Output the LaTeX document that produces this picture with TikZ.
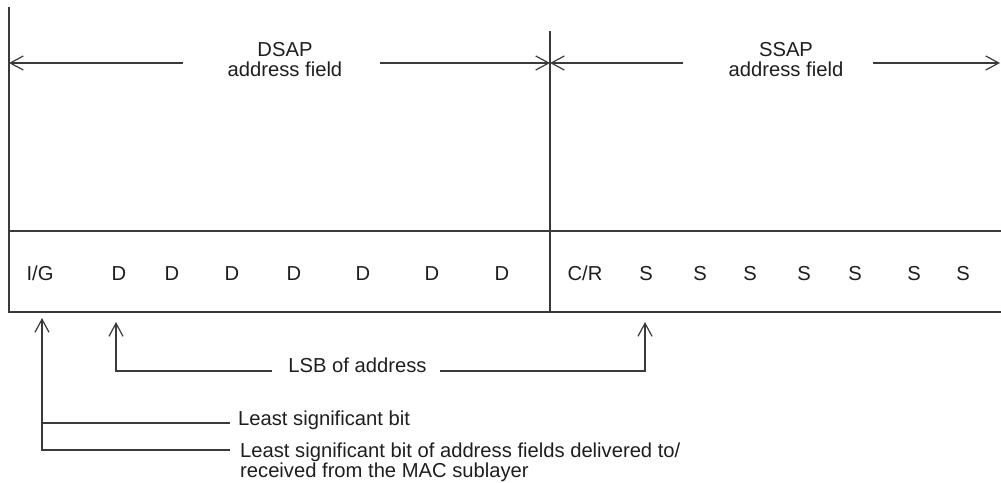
\documentclass[tikz,border=0pt]{standalone}
\usepackage{fontspec}
\setmainfont{Liberation Sans}
\usetikzlibrary{arrows.meta}
\definecolor{lncol}{HTML}{3A3A3A}
\definecolor{txcol}{HTML}{1E1E1E}
\begin{document}
\begin{tikzpicture}[x=1pt,y=-1pt,
  ln/.style={draw=lncol,line width=1.2pt},
  arr/.style={ln,-{Straight Barb[length=13pt,width=14pt]}},
  lbl/.style={text=txcol,font=\fontsize{20.2}{19.8}\selectfont,inner sep=0pt},
  bit/.style={lbl,anchor=base}]
\useasboundingbox (0,0) rectangle (1001,482);

% frame
\coordinate (tl) at (9,7);
\coordinate (bl) at (9,312);
\coordinate (br) at (1001,312);
\coordinate (ml) at (9,231);
\coordinate (mr) at (1001,231);
\coordinate (mt) at (550,31);
\coordinate (mb) at (550,312);
\draw[ln] (tl) -- (bl) -- (br);
\draw[ln] (ml) -- (mr);
\draw[ln] (mt) -- (mb);

% field labels
\node[lbl,align=center] (dsap) at (285,59.5) {DSAP\\address field};
\node[lbl,align=center] (ssap) at (786,59.5) {SSAP\\address field};

\coordinate (da) at (183,63);
\coordinate (dz) at (9,63);
\coordinate (db) at (380,63);
\coordinate (dm) at (550,63);
\coordinate (sa) at (683,63);
\coordinate (sb) at (873,63);
\coordinate (sz) at (1000,63);
\draw[arr] (da) -- (dz);
\draw[arr] (db) -- (dm);
\draw[arr] (sa) -- (dm);
\draw[arr] (sb) -- (sz);

% bits
\node[bit] (ig) at (40,280.5) {I/G};
\node[bit] (d1) at (119,280.5) {D};
\node[bit] (d2) at (172,280.5) {D};
\node[bit] (d3) at (232,280.5) {D};
\node[bit] (d4) at (294,280.5) {D};
\node[bit] (d5) at (363,280.5) {D};
\node[bit] (d6) at (432,280.5) {D};
\node[bit] (d7) at (502,280.5) {D};
\node[bit] (cr) at (585,280.5) {C/R};
\node[bit] (s1) at (646,280.5) {S};
\node[bit] (s2) at (700,280.5) {S};
\node[bit] (s3) at (750,280.5) {S};
\node[bit] (s4) at (804,280.5) {S};
\node[bit] (s5) at (855,280.5) {S};
\node[bit] (s6) at (914,280.5) {S};
\node[bit] (s7) at (963,280.5) {S};

% lower annotations
\node[lbl,anchor=base] (lsb) at (357.5,372) {LSB of address};
\node[lbl,anchor=base west] (lsbit) at (238,425) {Least significant bit};
\node[lbl,anchor=north west,align=left] (lsbmac) at (240,442.5)
  {Least significant bit of address fields delivered to/\\received from the MAC sublayer};

\coordinate (igtip) at (42,318);
\coordinate (igb) at (42,450);
\coordinate (igm) at (42,423);
\coordinate (lm) at (230,423);
\coordinate (lb) at (230,450);
\draw[arr] (lb) -- (igb) -- (igtip);
\draw[ln] (igm) -- (lm);

\coordinate (d1tip) at (116,322);
\coordinate (d1c) at (116,371);
\coordinate (la) at (272,371);
\coordinate (lz) at (440,371);
\coordinate (s1c) at (645,371);
\coordinate (s1tip) at (645,322);
\draw[arr] (la) -- (d1c) -- (d1tip);
\draw[arr] (lz) -- (s1c) -- (s1tip);
\end{tikzpicture}
\end{document}
